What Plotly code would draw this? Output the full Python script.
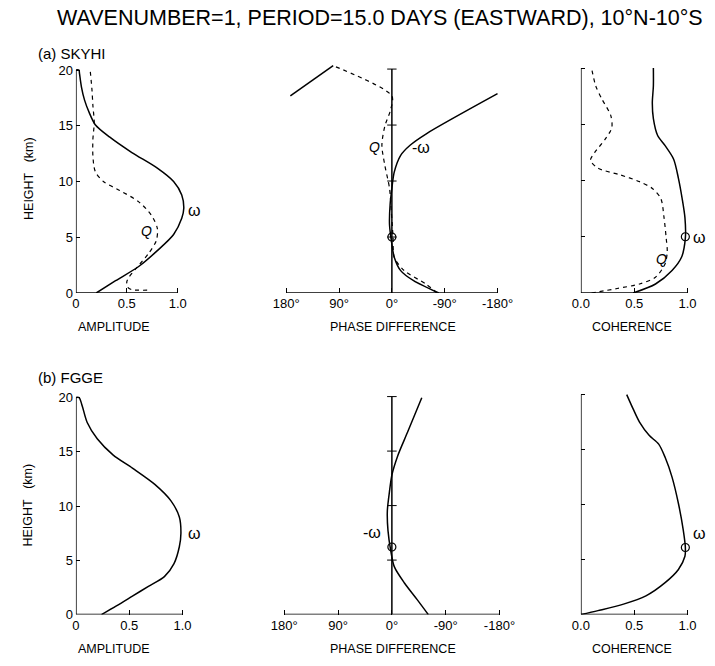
import plotly.graph_objects as go

W, H = 715, 666
TITLE = "WAVENUMBER=1, PERIOD=15.0 DAYS (EASTWARD), 10°N-10°S"

# ---------------- data: (a) SKYHI ----------------
a_amp_w_z = [0, 1.1, 2.4, 3.8, 5.25, 6.7, 7.6, 8.8, 10, 11.2, 12.6, 14, 15.1, 16.2, 17.3, 18.5, 19.7, 20, 20]
a_amp_w = [0.2, 0.39, 0.62, 0.80, 0.96, 1.04, 1.06, 1.04, 0.96, 0.80, 0.55, 0.33, 0.19, 0.13, 0.085, 0.054, 0.035, 0.03, 0.0]
a_amp_q_z = [0.25, 0.3, 0.5, 1.0, 1.4, 2.3, 3.5, 4.7, 5.8, 7, 8.2, 9.2, 10, 10.9, 12.3, 13.8, 15.3, 16.8, 18.2, 20]
a_amp_q = [0.7, 0.55, 0.51, 0.50, 0.52, 0.60, 0.71, 0.79, 0.80, 0.74, 0.615, 0.43, 0.27, 0.19, 0.167, 0.167, 0.18, 0.167, 0.158, 0.14]

a_ph_w_z = [0, 1.1, 2, 3.2, 4.35, 6.1, 7.9, 9.35, 10.8, 12.3, 13.2, 14.2, 17.8, None, 17.6, 20.3]
a_ph_w = [-80, -37, -15, -4, 0, 4, 3, 0, -4, -15, -31, -58, -180, None, 173, 100]
a_ph_q_z = [0, 0.8, 2, 3.2, 5, 7.3, 9.35, 11.4, 13.2, 14.9, 16.4, 17.6, 20.3]
a_ph_q = [-77, -58, -21, -4, -2, 1, 4, 12, 17, 12, 2, 0, 100]

a_coh_w_z = [0, 0.8, 2, 3.2, 4.9, 6.7, 8.4, 10.2, 11.9, 13.1, 14, 15.5, 16.9, 18.4, 20]
a_coh_w = [0.49, 0.70, 0.855, 0.945, 0.98, 0.976, 0.95, 0.915, 0.87, 0.79, 0.72, 0.68, 0.67, 0.68, 0.68]
a_coh_q_z = [0, 0.4, 0.8, 1.4, 2.6, 3.7, 4.9, 6.7, 8.4, 9.3, 9.9, 10.5, 11.1, 11.8, 12.5, 13.7, 14.7, 15.8, 17.2, 18.4, 20]
a_coh_q = [0.1, 0.34, 0.55, 0.70, 0.79, 0.81, 0.80, 0.78, 0.75, 0.67, 0.55, 0.37, 0.16, 0.09, 0.13, 0.23, 0.29, 0.28, 0.2, 0.14, 0.1]

a_ph_mark = (0, 5)
a_coh_mark = (0.98, 5)

# ---------------- data: (b) FGGE ----------------
b_amp_w_z = [0, 0.8, 1.7, 2.6, 3.5, 4.7, 6.25, 7.5, 9, 10.5, 12, 13.5, 14.7, 16.2, 17.7, 19.2, 20, 20]
b_amp_w = [0.24, 0.38, 0.53, 0.68, 0.83, 0.92, 0.97, 0.985, 0.97, 0.89, 0.74, 0.53, 0.35, 0.20, 0.106, 0.06, 0.03, 0.0]

b_ph_w_z = [0, 1.4, 2.9, 4.4, 5.9, 7.7, 9.5, 11.3, 12.8, 14.6, 16.7, 19.9]
b_ph_w = [-61, -42, -21, -4, 2, 6.5, 7.6, 4, 0, -10, -26, -50]

b_coh_w_z = [0, 0.36, 0.95, 1.7, 2.9, 4.1, 5.3, 6.1, 7.7, 10.1, 12.5, 14.3, 15.5, 16.3, 17.5, 18.7, 20]
b_coh_w = [0, 0.16, 0.4, 0.61, 0.79, 0.915, 0.976, 0.98, 0.96, 0.915, 0.855, 0.79, 0.73, 0.64, 0.55, 0.49, 0.43]

b_ph_mark = (0, 6.2)
b_coh_mark = (0.98, 6.1)

# tick definitions
height_ticks = [0, 5, 10, 15, 20]
amp_ticks = [0, 0.5, 1.0]
amp_labels = ["0", "0.5", "1.0"]
phase_ticks = [180, 90, 0, -90, -180]
phase_labels = ["180°", "90°", "0°", "-90°", "-180°"]
coh_ticks = [0, 0.5, 1.0]
coh_labels = ["0.0", "0.5", "1.0"]

FONT = "Liberation Sans"


def xdom(p0, v0, p1, v1, lo, hi):
    s = (p1 - p0) / (v1 - v0)
    a = p0 + (lo - v0) * s
    b = p0 + (hi - v0) * s
    a, b = sorted([a, b])
    return [max(0, a / W), min(1, b / W)]


def ydom(p0, v0, p1, v1, lo, hi):
    s = (p1 - p0) / (v1 - v0)
    a = p0 + (lo - v0) * s
    b = p0 + (hi - v0) * s
    return sorted([1 - a / H, 1 - b / H])


YR = [0, 20.6]
AMPR = [0, 1.12]
PHR = [186, -186]
COHR = [0, 1.14]

panels = {
    1: dict(x=xdom(68, 0, 173, 1, *AMPR), y=ydom(296, 0, 70, 20, *YR), xr=AMPR),
    2: dict(x=xdom(285, 180, 503, -180, *PHR), y=ydom(296, 0, 69, 20, *YR), xr=PHR),
    3: dict(x=xdom(589, 0, 699, 1, *COHR), y=ydom(296, 0, 68, 20, *YR), xr=COHR),
    4: dict(x=xdom(68, 0, 178, 1, *AMPR), y=ydom(622, 0, 402, 20, *YR), xr=AMPR),
    5: dict(x=xdom(283, 180, 505, -180, *PHR), y=ydom(622, 0, 401, 20, *YR), xr=PHR),
    6: dict(x=xdom(589, 0, 699, 1, *COHR), y=ydom(622, 0, 399, 20, *YR), xr=COHR),
}

fig = go.Figure()


def ax(i):
    return ("x" if i == 1 else f"x{i}"), ("y" if i == 1 else f"y{i}")


def line(i, xs, zs, dash="solid", width=1.5):
    xa, ya = ax(i)
    fig.add_trace(go.Scatter(x=xs, y=zs, xaxis=xa, yaxis=ya, mode="lines",
                             line=dict(color="black", width=width, dash=dash, shape="spline", smoothing=0.8),
                             connectgaps=False, showlegend=False, hoverinfo="skip"))


def mark(i, pt):
    xa, ya = ax(i)
    fig.add_trace(go.Scatter(x=[pt[0]], y=[pt[1]], xaxis=xa, yaxis=ya, mode="markers",
                             marker=dict(symbol="circle-open", size=8, color="black", line=dict(width=1.2)),
                             showlegend=False, hoverinfo="skip", cliponaxis=False))


line(1, a_amp_w, a_amp_w_z)
line(1, a_amp_q, a_amp_q_z, dash="4px,4px", width=1.2)
line(2, a_ph_w, a_ph_w_z)
line(2, a_ph_q, a_ph_q_z, dash="4px,4px", width=1.2)
mark(2, a_ph_mark)
line(3, a_coh_w, a_coh_w_z)
line(3, a_coh_q, a_coh_q_z, dash="4px,4px", width=1.2)
mark(3, a_coh_mark)
line(4, b_amp_w, b_amp_w_z)
line(5, b_ph_w, b_ph_w_z)
mark(5, b_ph_mark)
line(6, b_coh_w, b_coh_w_z)
mark(6, b_coh_mark)

layout = dict(width=W, height=H, margin=dict(l=0, r=0, t=0, b=0),
              paper_bgcolor="white", plot_bgcolor="white",
              font=dict(family=FONT, color="black", size=12))
shapes = []
tickfont = dict(family=FONT, size=13, color="black")

for i, p in panels.items():
    xk = "xaxis" if i == 1 else f"xaxis{i}"
    yk = "yaxis" if i == 1 else f"yaxis{i}"
    xa, ya = ax(i)
    kind = (i - 1) % 3
    xcfg = dict(domain=p["x"], range=p["xr"], anchor=ya, showgrid=False, zeroline=False,
                showline=False, ticks="inside", ticklen=5, tickwidth=1.2, tickcolor="black",
                tickfont=tickfont, fixedrange=True, ticklabelstandoff=1)
    ycfg = dict(domain=p["y"], range=YR, anchor=xa, showgrid=False, zeroline=False,
                showline=False, tickfont=tickfont, fixedrange=True)
    if kind == 0:
        xcfg.update(tickvals=amp_ticks, ticktext=amp_labels)
        ycfg.update(tickvals=height_ticks, ticks="inside", ticklen=4, tickcolor="black", tickwidth=1,
                    ticklabelstandoff=2)
        shapes.append(dict(type="line", xref=xa, yref=ya, x0=0, x1=1.0, y0=0, y1=0, line=dict(color="black", width=1.5)))
        shapes.append(dict(type="line", xref=xa, yref=ya, x0=0, x1=0, y0=0, y1=20, line=dict(color="black", width=1.5)))
    elif kind == 1:
        xcfg.update(tickvals=phase_ticks, ticktext=phase_labels)
        ycfg.update(showticklabels=False, ticks="")
        shapes.append(dict(type="line", xref=xa, yref=ya, x0=180, x1=-180, y0=0, y1=0, line=dict(color="black", width=1.5)))
        shapes.append(dict(type="line", xref=xa, yref=ya, x0=0, x1=0, y0=0, y1=20, line=dict(color="black", width=1.5)))
        for t in height_ticks[1:]:
            shapes.append(dict(type="line", xref=xa, yref=ya, x0=8, x1=-8, y0=t, y1=t, line=dict(color="black", width=1)))
    else:
        xcfg.update(tickvals=coh_ticks, ticktext=coh_labels)
        ycfg.update(tickvals=height_ticks[1:], showticklabels=False, ticks="inside", ticklen=4,
                    tickcolor="black", tickwidth=1)
        shapes.append(dict(type="line", xref=xa, yref=ya, x0=0, x1=1.0, y0=0, y1=0, line=dict(color="black", width=1.5)))
        shapes.append(dict(type="line", xref=xa, yref=ya, x0=0, x1=0, y0=0, y1=20, line=dict(color="black", width=1.5)))
    layout[xk] = xcfg
    layout[yk] = ycfg

layout["shapes"] = shapes


def pa(x, y, text, size=12, angle=0, style="normal", xanchor="center", family=FONT):
    return dict(x=x / W, y=1 - y / H, xref="paper", yref="paper", text=text, showarrow=False,
                font=dict(family=family, size=size, color="black", style=style),
                textangle=angle, xanchor=xanchor, yanchor="middle")


ann = [
    pa(382, 17, TITLE, size=21.5),
    pa(27, 53, "(a) SKYHI", size=15, xanchor="left"),
    pa(27, 382, "(b) FGGE", size=15, xanchor="left"),
    pa(19, 180, "HEIGHT&nbsp;&nbsp;&nbsp;(km)", size=12.5, angle=-90),
    pa(19, 511, "HEIGHT&nbsp;&nbsp;&nbsp;(km)", size=12.5, angle=-90),
    pa(107, 330, "AMPLITUDE", size=12.5),
    pa(395, 330, "PHASE DIFFERENCE", size=12.5),
    pa(642, 330, "COHERENCE", size=12.5),
    pa(107, 657, "AMPLITUDE", size=12.5),
    pa(395, 657, "PHASE DIFFERENCE", size=12.5),
    pa(642, 657, "COHERENCE", size=12.5),
    pa(190, 212, "ω", size=16),
    pa(141, 233, "Q", size=14, style="italic"),
    pa(376, 148, "Q", size=14, style="italic"),
    pa(424, 149, "-ω", size=16),
    pa(672, 262, "Q", size=14, style="italic"),
    pa(711, 240, "ω", size=16),
    pa(190, 540, "ω", size=16),
    pa(373, 539, "-ω", size=16),
    pa(711, 540, "ω", size=16),
]
layout["annotations"] = ann

fig.update_layout(**layout)
fig.write_html("out.html")
